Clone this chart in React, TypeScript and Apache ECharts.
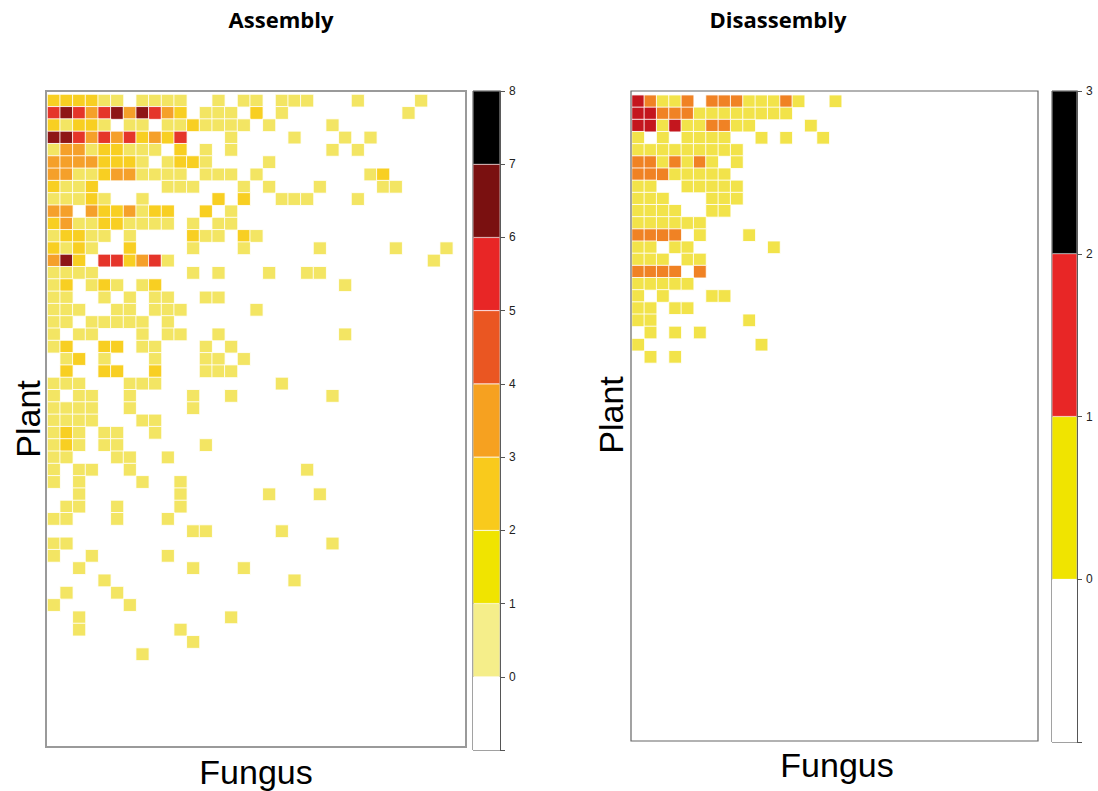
import React, { useEffect, useRef } from "react";
import * as echarts from "echarts";

// ---- data -------------------------------------------------------------
const fungusCount = 33; // columns
const plantCount = 53; // rows

// Assembly matrix: one string per plant row, one char per fungus column ('.' = empty, digit = level)
const assemblyRows: string[] = [
  "222211.1111..1.11.111...1....1...",
  "56535636532.111.2.1.........1....",
  "21221.11.1121111.1....1..........",
  "66535352325...1....1...1.1.......",
  "133122111.2.1.1.......1.1........",
  "33332221.1221....1...............",
  "33112331111.111.1........12......",
  "2112.....111...1.1...1....11.....",
  "11121..1.....2.2..111...1........",
  "33.3223122..2.1..................",
  "2311221111.1.11..................",
  "12211.1....211.21................",
  "2121..2....1...1.....1.....1...1.",
  "362.552351....................1..",
  "1111.......1.1...1..11...........",
  "12.121.12..............1.........",
  "11..1.1.11..11...................",
  "111..11.111.....1................",
  "11.11111.1.......................",
  "1.11...1.11..1.........1.........",
  "12..22.11...1.1..................",
  ".12.1...1...11.1.................",
  ".2..22..2...111..................",
  "111...111.........1..............",
  "1.11..1....1..1.......1..........",
  "1111..1....1.....................",
  "1111...11........................",
  "121.11..1........................",
  "121.11......1....................",
  "11...11..1.......................",
  "1.11..1.............1............",
  "1.1....1..1......................",
  "..1.......1......1...1...........",
  ".11..1....1......................",
  "11...1...1.......................",
  "...........11.....1..............",
  "11....................1..........",
  "1..1.....1.......................",
  "..1........1...1.................",
  "....1..............1.............",
  ".1...1...........................",
  "1.....1..........................",
  "..1...........1..................",
  "..1.......1......................",
  "...........1.....................",
  ".......1.........................",
];

// Disassembly matrix
const disassemblyRows: string[] = [
  "32112.22211121..1................",
  "3322211111111....................",
  "3313112211....1..................",
  "1.1.1111..1.1..1.................",
  "111111111........................",
  "2212121.1........................",
  "22211111.........................",
  "11..11111........................",
  "111...111........................",
  "1111..11.........................",
  "111111...........................",
  "2222.1...1.......................",
  "11.11......1.....................",
  "111.11...........................",
  "2222.2...........................",
  "11111............................",
  "1.1...11.........................",
  "11.11............................",
  "11.......1.......................",
  ".1.1.1...........................",
  "1.........1......................",
  ".1.1.............................",
];

// colour-bar tick values
const assemblyTicks: number[] = [0, 1, 2, 3, 4, 5, 6, 7, 8];
const disassemblyTicks: number[] = [0, 1, 2, 3];

// ---- styles -----------------------------------------------------------
const assemblyCellColors: Record<number, string> = {
  1: "#F3E563",
  2: "#F8CF22",
  3: "#F5A02A",
  4: "#EA5A22",
  5: "#E5352A",
  6: "#8E1616",
};
const assemblyBarColors = ["#F5EE8A", "#F0E400", "#F9CA1C", "#F6A120", "#EA5622", "#E82626", "#7A1010", "#000000"];
const disassemblyCellColors: Record<number, string> = {
  1: "#F2E34A",
  2: "#F08224",
  3: "#C4161E",
};
const disassemblyBarColors = ["#F0E400", "#E82626", "#000000"];

function toCells(rows: string[]): number[][] {
  const out: number[][] = [];
  rows.forEach((r, y) => {
    for (let x = 0; x < r.length; x++) {
      const ch = r[x];
      if (ch !== ".") out.push([x, y, Number(ch)]);
    }
  });
  return out;
}

const colCats = Array.from({ length: fungusCount }, (_, i) => String(i));
const rowCats = Array.from({ length: plantCount }, (_, i) => String(i));

function colorBarSeries(ticks: number[], colors: string[], axisIndex: number, stack: string) {
  const s: any[] = [
    {
      type: "bar",
      xAxisIndex: axisIndex,
      yAxisIndex: axisIndex,
      stack,
      data: [ticks[0] - 1],
      barWidth: "100%",
      barCategoryGap: 0,
      silent: true,
      itemStyle: { color: "#ffffff" },
    },
  ];
  for (let i = 0; i < ticks.length - 1; i++) {
    s.push({
      type: "bar",
      xAxisIndex: axisIndex,
      yAxisIndex: axisIndex,
      stack,
      data: [ticks[i + 1] - ticks[i]],
      barWidth: "100%",
      barCategoryGap: 0,
      silent: true,
      itemStyle: { color: colors[i], borderColor: "rgba(255,255,255,0.35)", borderWidth: 0.6 },
    });
  }
  return s;
}

const labelFont = "Liberation Sans";

export default function App() {
  const ref = useRef<HTMLDivElement>(null);
  useEffect(() => {
    if (!ref.current) return;
    const chart = echarts.init(ref.current, undefined, { renderer: "svg" });
    const heatAxisX = (gridIndex: number) => ({
      gridIndex,
      type: "category",
      data: colCats,
      show: false,
    });
    const heatAxisY = (gridIndex: number) => ({
      gridIndex,
      type: "category",
      data: rowCats,
      inverse: true,
      show: false,
    });
    const cbAxisY = (gridIndex: number, ticks: number[]) => ({
      gridIndex,
      type: "value",
      min: ticks[0] - 1,
      max: ticks[ticks.length - 1],
      interval: 1,
      position: "right",
      axisLine: { show: true, lineStyle: { color: "#555", width: 1 } },
      axisTick: { show: true, length: 5, lineStyle: { color: "#555" } },
      axisLabel: {
        formatter: (v: number) => (v < ticks[0] ? "" : String(v)),
        fontSize: 12,
        fontFamily: labelFont,
        color: "#222",
        margin: 9,
      },
      splitLine: { show: false },
    });
    const option: any = {
      animation: false,
      backgroundColor: "#ffffff",
      grid: [
        { left: 47.5, top: 94.5, width: 418, height: 652 },
        { left: 473, top: 91, width: 27, height: 659, show: true, borderColor: "#444", borderWidth: 1, backgroundColor: "transparent" },
        { left: 632, top: 95.2, width: 407, height: 645 },
        { left: 1052, top: 91, width: 25, height: 651, show: true, borderColor: "#444", borderWidth: 1, backgroundColor: "transparent" },
      ],
      xAxis: [
        heatAxisX(0),
        { gridIndex: 1, type: "category", data: ["bar"], show: false },
        heatAxisX(2),
        { gridIndex: 3, type: "category", data: ["bar"], show: false },
      ],
      yAxis: [heatAxisY(0), cbAxisY(1, assemblyTicks), heatAxisY(2), cbAxisY(3, disassemblyTicks)],
      visualMap: [
        {
          type: "piecewise",
          show: false,
          seriesIndex: 0,
          dimension: 2,
          pieces: Object.keys(assemblyCellColors).map((k) => ({ value: Number(k), color: assemblyCellColors[Number(k)] })),
        },
        {
          type: "piecewise",
          show: false,
          seriesIndex: 1,
          dimension: 2,
          pieces: Object.keys(disassemblyCellColors).map((k) => ({ value: Number(k), color: disassemblyCellColors[Number(k)] })),
        },
      ],
      series: [
        {
          type: "heatmap",
          xAxisIndex: 0,
          yAxisIndex: 0,
          data: toCells(assemblyRows),
          silent: true,
          itemStyle: { borderColor: "rgba(255,255,255,0.85)", borderWidth: 1 },
        },
        {
          type: "heatmap",
          xAxisIndex: 2,
          yAxisIndex: 2,
          data: toCells(disassemblyRows),
          silent: true,
          itemStyle: { borderColor: "rgba(255,255,255,0.85)", borderWidth: 1 },
        },
        ...colorBarSeries(assemblyTicks, assemblyBarColors, 1, "cbA"),
        ...colorBarSeries(disassemblyTicks, disassemblyBarColors, 3, "cbD"),
      ],
      graphic: [
        { type: "rect", z: 100, shape: { x: 46, y: 91, width: 420, height: 656 }, style: { fill: "none", stroke: "#9a9a9a", lineWidth: 2 } },
        { type: "rect", z: 100, shape: { x: 631, y: 91, width: 407, height: 650 }, style: { fill: "none", stroke: "#666", lineWidth: 1.2 } },
        {
          type: "text", x: 281, y: 19,
          style: { text: "Assembly", font: 'bold 22px "Open Sans"', fill: "#000", align: "center", verticalAlign: "middle", textAlign: "center", textVerticalAlign: "middle" },
        },
        {
          type: "text", x: 778, y: 19,
          style: { text: "Disassembly", font: 'bold 22px "Open Sans"', fill: "#000", align: "center", verticalAlign: "middle", textAlign: "center", textVerticalAlign: "middle" },
        },
        {
          type: "text", x: 28, y: 419, rotation: Math.PI / 2,
          style: { text: "Plant", font: `34px "${labelFont}"`, fill: "#000", align: "center", verticalAlign: "middle", textAlign: "center", textVerticalAlign: "middle" },
        },
        {
          type: "text", x: 611, y: 415, rotation: Math.PI / 2,
          style: { text: "Plant", font: `34px "${labelFont}"`, fill: "#000", align: "center", verticalAlign: "middle", textAlign: "center", textVerticalAlign: "middle" },
        },
        {
          type: "text", x: 256, y: 772,
          style: { text: "Fungus", font: `34px "${labelFont}"`, fill: "#000", align: "center", verticalAlign: "middle", textAlign: "center", textVerticalAlign: "middle" },
        },
        {
          type: "text", x: 837, y: 765,
          style: { text: "Fungus", font: `34px "${labelFont}"`, fill: "#000", align: "center", verticalAlign: "middle", textAlign: "center", textVerticalAlign: "middle" },
        },
      ],
    };
    chart.setOption(option);
    return () => chart.dispose();
  }, []);
  return <div ref={ref} style={{ position: "fixed", left: 0, top: 0, width: 1098, height: 791 }} />;
}
